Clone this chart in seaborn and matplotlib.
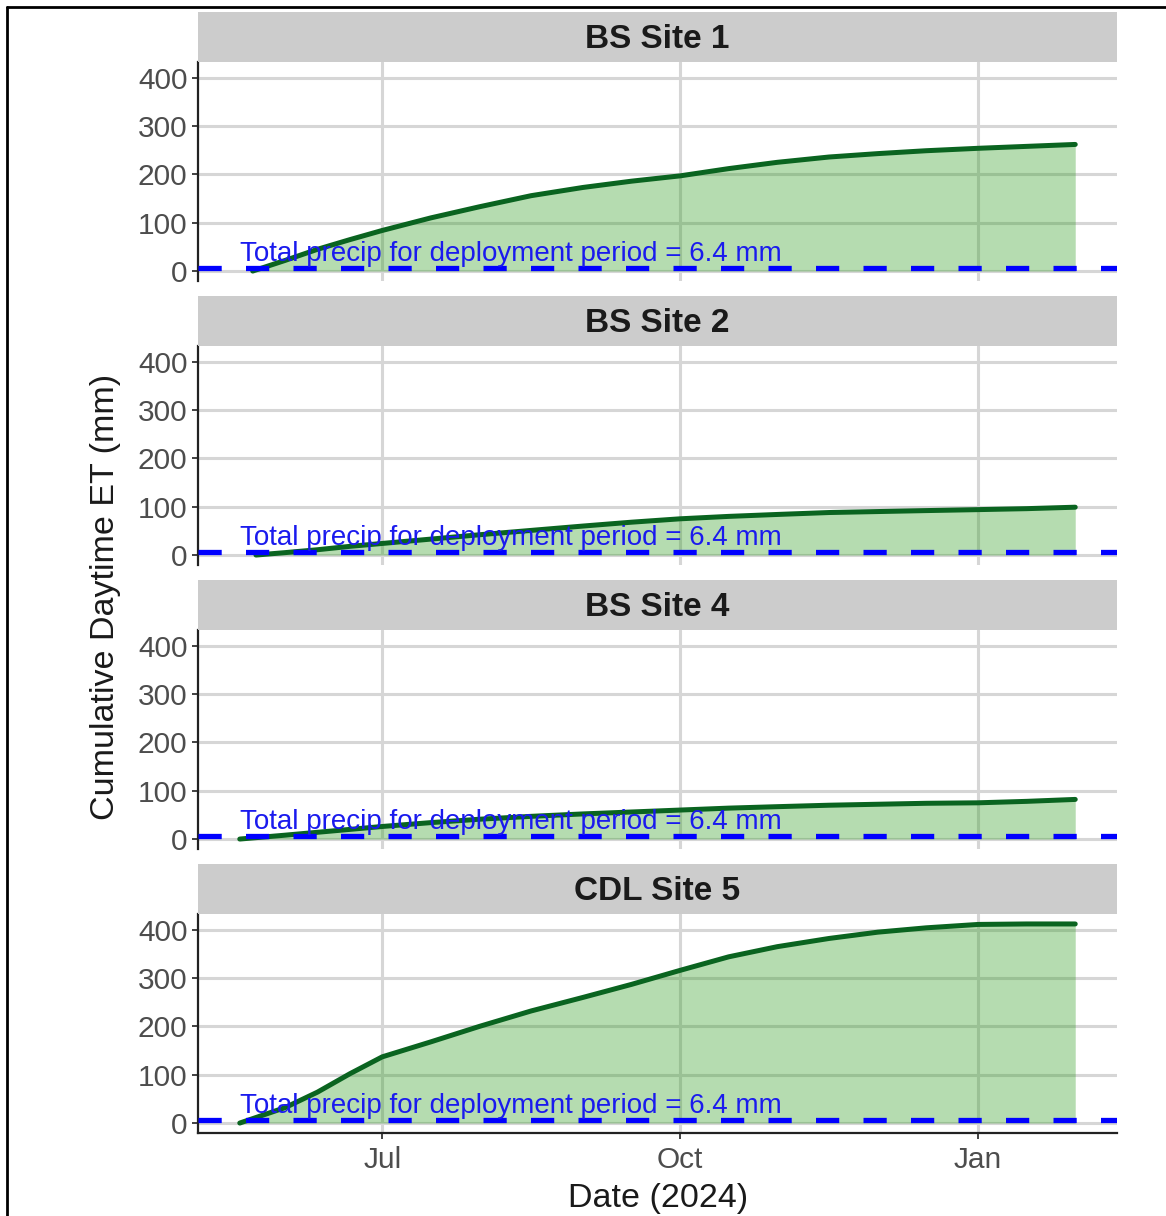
import matplotlib
matplotlib.use("Agg")
import matplotlib.pyplot as plt
from matplotlib.lines import Line2D
import seaborn as sns
import pandas as pd

# ---------------- data ----------------
sites = ["BS Site 1", "BS Site 2", "BS Site 4", "CDL Site 5"]
start_dates = ["2024-05-22", "2024-05-23", "2024-05-18", "2024-05-18"]
common_dates = ["2024-06-01", "2024-06-11", "2024-06-21", "2024-07-01", "2024-07-16",
                "2024-07-31", "2024-08-16", "2024-09-01", "2024-09-16", "2024-10-01",
                "2024-10-16", "2024-10-31", "2024-11-16", "2024-12-01", "2024-12-16",
                "2025-01-01", "2025-01-16", "2025-01-31"]
bs1_et = [0, 22, 45, 65, 84, 110, 133, 156, 173, 186, 197, 212, 225, 236, 243, 249, 254, 258, 262]
bs2_et = [0, 5, 11, 18, 24, 33, 42, 51, 60, 68, 75, 80, 84, 88, 90, 92, 94, 96, 99]
bs4_et = [0, 8, 14, 20, 26, 34, 41, 47, 52, 56, 60, 64, 67, 70, 72, 74, 75, 78, 82]
cdl5_et = [0, 32, 64, 102, 137, 168, 200, 232, 260, 287, 316, 344, 365, 382, 395, 404, 411, 412, 412]
site_values = [bs1_et, bs2_et, bs4_et, cdl5_et]
precip_total = 6.4
precip_label = "Total precip for deployment period = 6.4 mm"
label_y = 35
y_ticks = [0, 100, 200, 300, 400]
x_tick_dates = ["2024-07-01", "2024-10-01", "2025-01-01"]
x_tick_labels = ["Jul", "Oct", "Jan"]

rows = []
for s, sd, vals in zip(sites, start_dates, site_values):
    for d, v in zip([sd] + common_dates, vals):
        rows.append({"site": s, "date": pd.Timestamp(d), "et": v})
df = pd.DataFrame(rows)

# ---------------- style ----------------
sns.set_style("white")
plt.rcParams["font.family"] = ["Liberation Sans", "DejaVu Sans"]

W, H = 1166, 1216
fig = plt.figure(figsize=(W / 100, H / 100), dpi=100)

line_col = "#0a6420"
fill_col = "#2c9b1d"
grid_col = "#d6d6d6"

L_px, R_px = 198, 1117
panel_h, strip_h, step = 219, 50, 284
first_top = 62

dmin = df["date"].min()
dmax = df["date"].max()
span = dmax - dmin
xlim = (dmin - span * 0.05, dmax + span * 0.05)
ymax = df["et"].max()
ylim = (0 - ymax * 0.05, ymax * 1.05)

for i, s in enumerate(sites):
    top = first_top + step * i
    ax = fig.add_axes([L_px / W, 1 - (top + panel_h) / H, (R_px - L_px) / W, panel_h / H])
    sub = df[df["site"] == s]
    ax.set_axisbelow(True)
    ax.grid(True, color=grid_col, lw=2.2)
    ax.fill_between(sub["date"], 0, sub["et"], color=fill_col, alpha=0.35, lw=0, zorder=2)
    sns.lineplot(data=sub, x="date", y="et", ax=ax, color=line_col, lw=3.6, zorder=3)
    ax.axhline(precip_total, color="#0000ff", lw=3.8, ls=(0, (4.4, 4.6)), zorder=4)
    ax.text(dmin, label_y, precip_label, color="#1a1aee", fontsize=20,
            ha="left", va="center", zorder=5)
    ax.set_xlim(xlim)
    ax.set_ylim(ylim)
    ax.set_yticks(y_ticks)
    ax.set_xticks([pd.Timestamp(d) for d in x_tick_dates])
    ax.set_xlabel("")
    ax.set_ylabel("")
    for sp in ["top", "right"]:
        ax.spines[sp].set_visible(False)
    ax.spines["left"].set_color("#222222")
    ax.spines["left"].set_linewidth(1.6)
    ax.tick_params(axis="y", length=4.5, width=1.3, color="#333333", labelcolor="#4d4d4d",
                   labelsize=21.5, pad=3, left=True)
    if i == len(sites) - 1:
        ax.spines["bottom"].set_color("#222222")
        ax.spines["bottom"].set_linewidth(1.6)
        ax.set_xticklabels(x_tick_labels)
        ax.tick_params(axis="x", length=4.5, width=1.3, color="#333333", labelcolor="#4d4d4d",
                       labelsize=21.5, pad=5, bottom=True)
    else:
        ax.spines["bottom"].set_visible(False)
        ax.tick_params(axis="x", length=0, labelbottom=False)

    sax = fig.add_axes([L_px / W, 1 - top / H, (R_px - L_px) / W, strip_h / H])
    sax.set_facecolor("#cccccc")
    for sp in sax.spines.values():
        sp.set_visible(False)
    sax.set_xticks([])
    sax.set_yticks([])
    sax.text(0.5, 0.44, s, ha="center", va="center", fontsize=24,
             fontweight="bold", color="#1a1a1a", transform=sax.transAxes)

fig.text(658 / W, 1 - 1198 / H, "Date (2024)", ha="center", va="center", fontsize=24.5, color="#1a1a1a")
fig.text(106 / W, 1 - 597 / H, "Cumulative Daytime ET (mm)", ha="center", va="center",
         rotation=90, fontsize=24.5, color="#1a1a1a")

# outer frame (left and top edges)
fig.add_artist(Line2D([7 / W, 7 / W], [0, 1 - 7 / H], color="black", lw=2, transform=fig.transFigure))
fig.add_artist(Line2D([7 / W, 1], [1 - 7 / H, 1 - 7 / H], color="black", lw=2, transform=fig.transFigure))

fig.savefig("out.png", dpi=100)
